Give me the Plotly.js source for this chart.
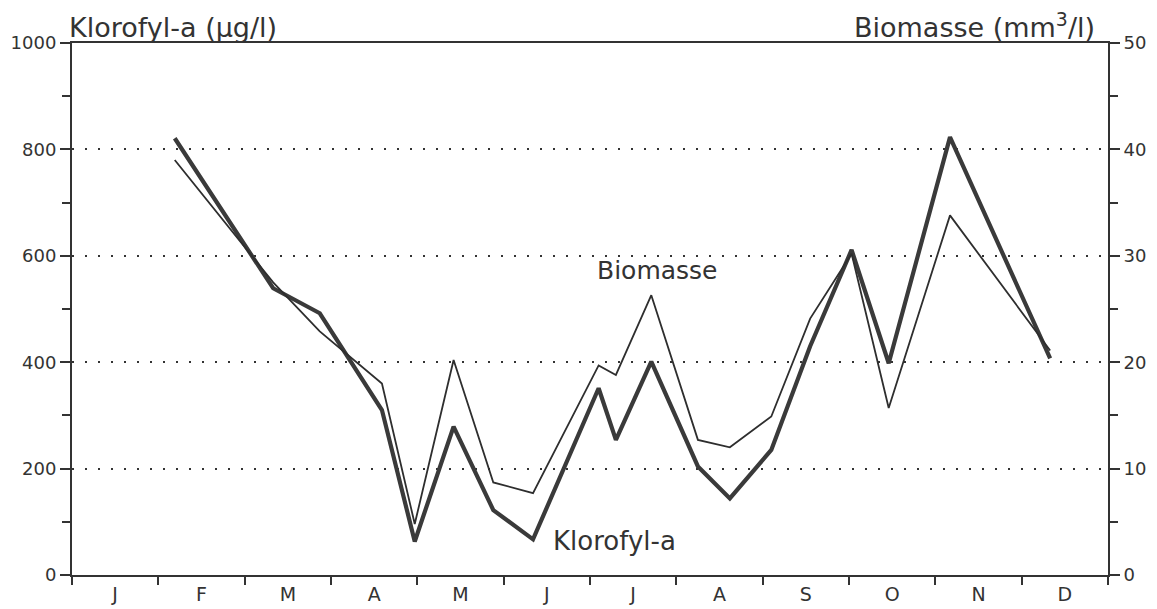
<!DOCTYPE html>
<html>
<head>
<meta charset="utf-8">
<script src="https://cdn.plot.ly/plotly-3.0.1.min.js"></script>
<style>html,body{margin:0;padding:0;background:#fff;}#chart{width:1157px;height:609px;}</style>
</head>
<body>
<div id="chart"></div>
<script>
// Sampling dates as fractional month (0 = start of January, 12 = end of December)
const sampleMonth = [1.19, 2.33, 2.87, 3.59, 3.97, 4.42, 4.88, 5.34, 6.10, 6.30, 6.71, 7.25, 7.62, 8.10, 8.55, 9.03, 9.46, 10.17, 11.33];
// Klorofyl-a (µg/l), left axis
const klorofyl = [821, 539, 492, 310, 63, 279, 122, 67, 351, 254, 401, 204, 144, 235, 430, 611, 398, 823, 407];
// Biomasse (mm3/l), right axis
const biomasse = [39.0, 27.5, 22.9, 18.0, 4.8, 20.2, 8.7, 7.7, 19.7, 18.8, 26.3, 12.7, 12.0, 14.9, 24.1, 30.2, 15.7, 33.8, 21.1];
// Month tick labels
const monthLabels = ['J','F','M','A','M','J','J','A','S','O','N','D'];
const monthCenters = [0.5,1.5,2.5,3.5,4.5,5.5,6.5,7.5,8.5,9.5,10.5,11.5];
const leftTicks = [0, 200, 400, 600, 800, 1000];
const rightTicks = [0, 10, 20, 30, 40, 50];

const ink = '#333333';
const font = 'DejaVu Sans, sans-serif';

const traces = [
  {
    x: sampleMonth, y: biomasse, yaxis: 'y2', type: 'scatter', mode: 'lines',
    line: {color: '#2e2e2e', width: 1.8}, name: 'Biomasse', hoverinfo: 'skip'
  },
  {
    x: sampleMonth, y: klorofyl, yaxis: 'y', type: 'scatter', mode: 'lines',
    line: {color: '#3a3a3a', width: 4.2}, name: 'Klorofyl-a', hoverinfo: 'skip'
  }
];

const layout = {
  width: 1157, height: 609,
  margin: {l: 72, r: 49, t: 43, b: 34, pad: 0},
  paper_bgcolor: '#ffffff', plot_bgcolor: '#ffffff',
  showlegend: false,
  font: {family: font, color: ink},
  xaxis: {
    range: [0, 12], fixedrange: true,
    tickvals: monthCenters, ticktext: monthLabels, ticks: '',
    tickfont: {size: 19, color: ink, family: font},
    ticklabelstandoff: 1,
    showgrid: false, zeroline: false,
    showline: true, linecolor: '#333', linewidth: 2, mirror: true,
    minor: {tick0: 0, dtick: 1, ticks: 'outside', ticklen: 8, tickwidth: 2, tickcolor: '#333', showgrid: false}
  },
  yaxis: {
    range: [0, 1000], fixedrange: true,
    tickvals: leftTicks, ticks: 'outside', ticklen: 10, tickwidth: 2, tickcolor: '#333',
    tickfont: {size: 18, color: ink, family: font},
    showline: true, linecolor: '#333', linewidth: 2,
    zeroline: false,
    showgrid: true, gridcolor: '#333', gridwidth: 2, griddash: '2px,11px',
    minor: {dtick: 100, ticks: 'outside', ticklen: 8, tickwidth: 2, tickcolor: '#333', showgrid: false}
  },
  yaxis2: {
    range: [0, 50], fixedrange: true, overlaying: 'y', side: 'right',
    tickvals: rightTicks, ticks: 'outside', ticklen: 10, tickwidth: 2, tickcolor: '#333',
    tickfont: {size: 18, color: ink, family: font},
    showline: true, linecolor: '#333', linewidth: 2,
    zeroline: false, showgrid: false,
    minor: {dtick: 5, ticks: 'outside', ticklen: 8, tickwidth: 2, tickcolor: '#333', showgrid: false}
  },
  annotations: [
    {text: 'Klorofyl-a (µg/l)', xref: 'paper', yref: 'paper', x: 0, y: 1, xanchor: 'left', yanchor: 'bottom',
     xshift: -5, yshift: -2, showarrow: false, font: {size: 27, color: ink, family: font}},
    {text: 'Biomasse (mm<sup>3</sup>/l)', xref: 'paper', yref: 'paper', x: 1, y: 1, xanchor: 'right', yanchor: 'bottom',
     xshift: -11, yshift: -2, showarrow: false, font: {size: 27, color: ink, family: font}},
    {text: 'Biomasse', xref: 'x', yref: 'y', x: 6.78, y: 573, xanchor: 'center', yanchor: 'middle',
     showarrow: false, font: {size: 25, color: ink, family: font}},
    {text: 'Klorofyl-a', xref: 'x', yref: 'y', x: 6.28, y: 64, xanchor: 'center', yanchor: 'middle',
     showarrow: false, font: {size: 26, color: ink, family: font}}
  ]
};

Plotly.newPlot('chart', traces, layout, {staticPlot: true, displayModeBar: false});
</script>
</body>
</html>
